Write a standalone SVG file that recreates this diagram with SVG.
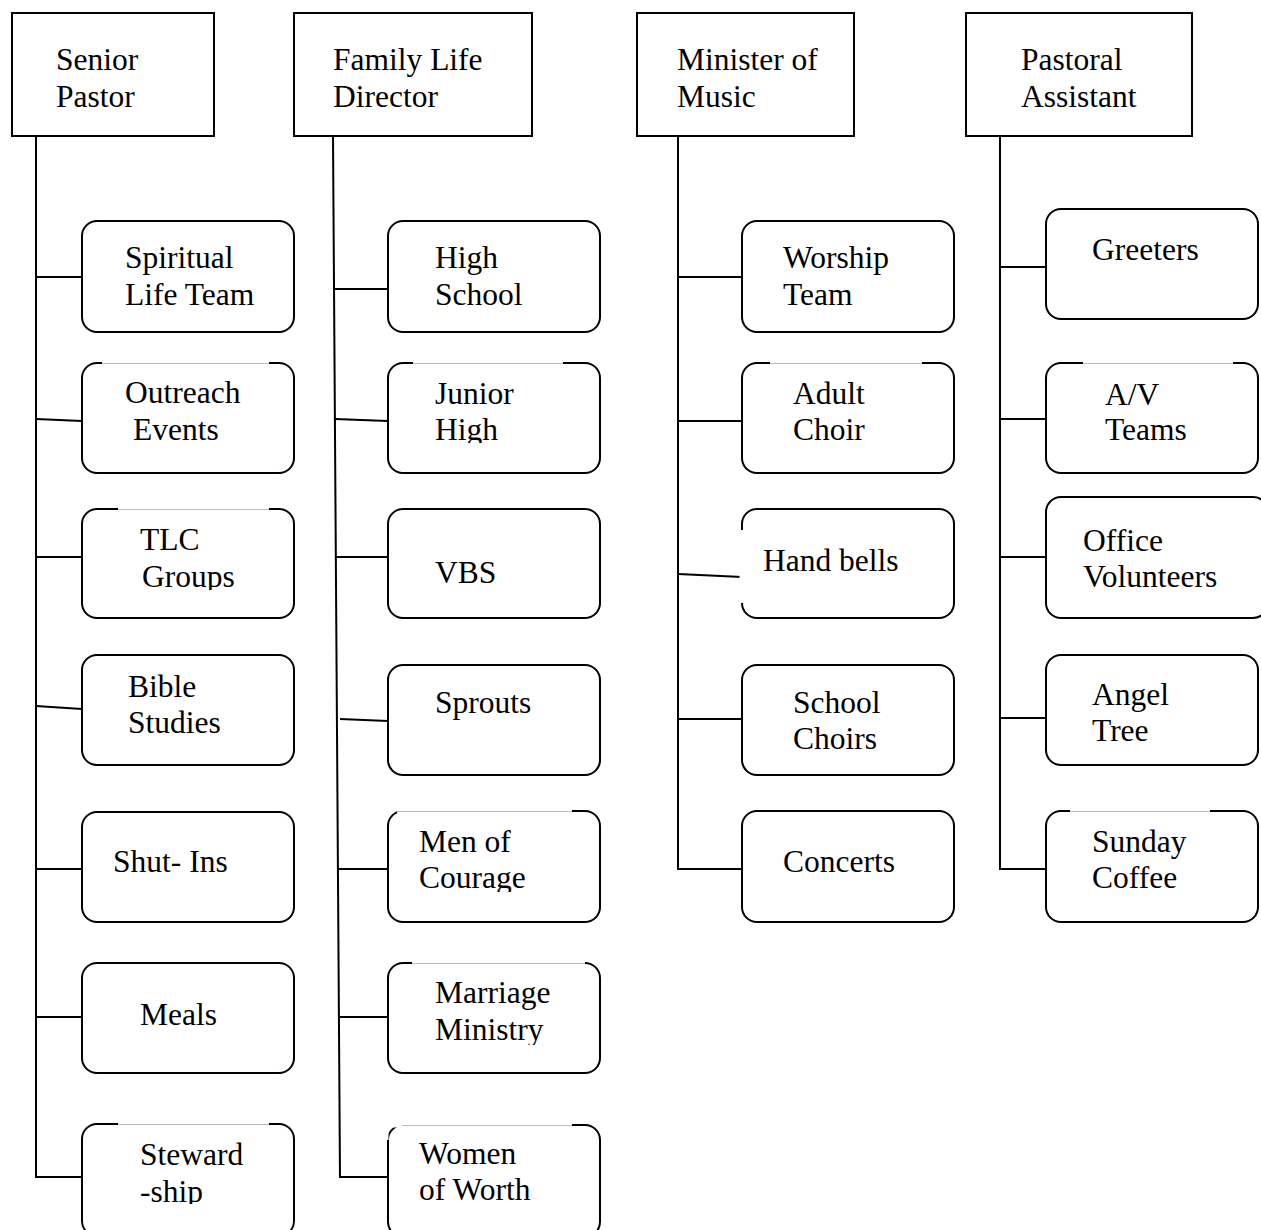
<svg xmlns="http://www.w3.org/2000/svg" width="1261" height="1230" viewBox="0 0 1261 1230" font-family="Liberation Serif, Times New Roman, serif" font-size="31.5">
  <style>
    .head { fill: #fff; stroke: #000; stroke-width: 2; }
    .box { fill: #fff; stroke: #000; stroke-width: 2; }
    .gap { stroke: #fff; stroke-width: 5; fill: none; }
    .hair { stroke: #bdbdbd; stroke-width: 1; fill: none; }
    .link { stroke: #000; stroke-width: 2; fill: none; }
  </style>
  <defs>
    <clipPath id="clip-junior"><rect x="388" y="363" width="212" height="80"/></clipPath>
    <clipPath id="clip-tlc"><rect x="82" y="509" width="212" height="81"/></clipPath>
    <clipPath id="clip-men"><rect x="388" y="811" width="212" height="81"/></clipPath>
    <clipPath id="clip-marriage"><rect x="388" y="963" width="212" height="82"/></clipPath>
    <clipPath id="clip-steward"><rect x="82" y="1124" width="212" height="80"/></clipPath>
  </defs>

  <rect width="1261" height="1230" fill="#fff"/>

  <!-- connectors -->
  <g id="connectors">
    <line class="link" x1="36" y1="136" x2="36" y2="1178"/>
    <line class="link" x1="36" y1="277" x2="82" y2="277"/>
    <line class="link" x1="36" y1="419" x2="82" y2="421"/>
    <line class="link" x1="36" y1="557" x2="82" y2="557"/>
    <line class="link" x1="36" y1="706" x2="82" y2="709"/>
    <line class="link" x1="36" y1="869" x2="82" y2="869"/>
    <line class="link" x1="36" y1="1017" x2="82" y2="1017"/>
    <line class="link" x1="35" y1="1177" x2="82" y2="1177"/>

    <line class="link" x1="333" y1="136" x2="340" y2="1178"/>
    <line class="link" x1="334" y1="289" x2="388" y2="289"/>
    <line class="link" x1="335" y1="419" x2="388" y2="421"/>
    <line class="link" x1="336" y1="557" x2="388" y2="557"/>
    <line class="link" x1="340" y1="719" x2="388" y2="721"/>
    <line class="link" x1="338" y1="869" x2="388" y2="869"/>
    <line class="link" x1="339" y1="1017" x2="388" y2="1017"/>
    <line class="link" x1="339" y1="1177" x2="388" y2="1177"/>

    <line class="link" x1="678" y1="136" x2="678" y2="870"/>
    <line class="link" x1="678" y1="277" x2="742" y2="277"/>
    <line class="link" x1="678" y1="421" x2="742" y2="421"/>
    <line class="link" x1="678" y1="574" x2="742" y2="577"/>
    <line class="link" x1="678" y1="719" x2="742" y2="719"/>
    <line class="link" x1="677" y1="869" x2="742" y2="869"/>

    <line class="link" x1="1000" y1="136" x2="1000" y2="870"/>
    <line class="link" x1="1000" y1="267" x2="1046" y2="267"/>
    <line class="link" x1="1000" y1="419" x2="1046" y2="419"/>
    <line class="link" x1="1000" y1="557" x2="1046" y2="557"/>
    <line class="link" x1="1000" y1="718" x2="1046" y2="718"/>
    <line class="link" x1="999" y1="869" x2="1046" y2="869"/>
  </g>

  <!-- heads of the four ministry areas -->
  <g id="senior-pastor">
    <rect class="head" x="12" y="13" width="202" height="123"/>
    <text x="56" y="70">Senior</text>
    <text x="56" y="107">Pastor</text>
  </g>
  <g id="family-life-director">
    <rect class="head" x="294" y="13" width="238" height="123"/>
    <text x="333" y="70">Family Life</text>
    <text x="333" y="107">Director</text>
  </g>
  <g id="minister-of-music">
    <rect class="head" x="637" y="13" width="217" height="123"/>
    <text x="677" y="70">Minister of</text>
    <text x="677" y="107">Music</text>
  </g>
  <g id="pastoral-assistant">
    <rect class="head" x="966" y="13" width="226" height="123"/>
    <text x="1021" y="70">Pastoral</text>
    <text x="1021" y="107">Assistant</text>
  </g>

  <!-- Senior Pastor teams -->
  <g id="spiritual-life-team">
    <rect class="box" x="82" y="221" width="212" height="111" rx="15"/>
    <text x="125" y="268">Spiritual</text>
    <text x="125" y="305">Life Team</text>
  </g>
  <g id="outreach-events">
    <rect class="box" x="82" y="363" width="212" height="110" rx="15"/>
    <line class="gap" x1="102" y1="363" x2="269" y2="363"/>
    <line class="hair" x1="102" y1="363.5" x2="269" y2="363.5"/>
    <text x="125" y="403">Outreach</text>
    <text x="133" y="440">Events</text>
  </g>
  <g id="tlc-groups">
    <rect class="box" x="82" y="509" width="212" height="109" rx="15"/>
    <line class="gap" x1="118" y1="509" x2="269" y2="509"/>
    <line class="hair" x1="118" y1="509.5" x2="269" y2="509.5"/>
    <g clip-path="url(#clip-tlc)">
      <text x="140" y="550">TLC</text>
      <text x="142" y="587">Groups</text>
    </g>
  </g>
  <g id="bible-studies">
    <rect class="box" x="82" y="655" width="212" height="110" rx="15"/>
    <text x="128" y="697">Bible</text>
    <text x="128" y="733">Studies</text>
  </g>
  <g id="shut-ins">
    <rect class="box" x="82" y="812" width="212" height="110" rx="15"/>
    <text x="113" y="872">Shut- Ins</text>
  </g>
  <g id="meals">
    <rect class="box" x="82" y="963" width="212" height="110" rx="15"/>
    <text x="140" y="1025">Meals</text>
  </g>
  <g id="stewardship">
    <rect class="box" x="82" y="1124" width="212" height="112" rx="15"/>
    <line class="gap" x1="118" y1="1124" x2="269" y2="1124"/>
    <line class="hair" x1="118" y1="1124.5" x2="269" y2="1124.5"/>
    <g clip-path="url(#clip-steward)">
      <text x="140" y="1165">Steward</text>
      <text x="140" y="1202">-ship</text>
    </g>
  </g>

  <!-- Family Life teams -->
  <g id="high-school">
    <rect class="box" x="388" y="221" width="212" height="111" rx="15"/>
    <text x="435" y="268">High</text>
    <text x="435" y="305">School</text>
  </g>
  <g id="junior-high">
    <rect class="box" x="388" y="363" width="212" height="110" rx="15"/>
    <line class="gap" x1="413" y1="363" x2="563" y2="363"/>
    <line class="hair" x1="413" y1="363.5" x2="563" y2="363.5"/>
    <g clip-path="url(#clip-junior)">
      <text x="435" y="404">Junior</text>
      <text x="435" y="440">High</text>
    </g>
  </g>
  <g id="vbs">
    <rect class="box" x="388" y="509" width="212" height="109" rx="15"/>
    <text x="435" y="583">VBS</text>
  </g>
  <g id="sprouts">
    <rect class="box" x="388" y="665" width="212" height="110" rx="15"/>
    <text x="435" y="713">Sprouts</text>
  </g>
  <g id="men-of-courage">
    <rect class="box" x="388" y="811" width="212" height="111" rx="15"/>
    <line class="gap" x1="397" y1="811" x2="572" y2="811"/>
    <line class="hair" x1="397" y1="811.5" x2="572" y2="811.5"/>
    <g clip-path="url(#clip-men)">
      <text x="419" y="852">Men of</text>
      <text x="419" y="888">Courage</text>
    </g>
  </g>
  <g id="marriage-ministry">
    <rect class="box" x="388" y="963" width="212" height="110" rx="15"/>
    <line class="gap" x1="412" y1="963" x2="585" y2="963"/>
    <line class="hair" x1="412" y1="963.5" x2="585" y2="963.5"/>
    <g clip-path="url(#clip-marriage)">
      <text x="435" y="1003">Marriage</text>
      <text x="435" y="1040">Ministry</text>
    </g>
  </g>
  <g id="women-of-worth">
    <rect class="box" x="388" y="1125" width="212" height="112" rx="15"/>
    <path class="gap" d="M386,1140 L386,1125 L572,1125"/>
    <line class="hair" x1="402" y1="1125.5" x2="572" y2="1125.5"/>
    <text x="419" y="1164">Women</text>
    <text x="419" y="1200">of Worth</text>
  </g>

  <!-- Music teams -->
  <g id="worship-team">
    <rect class="box" x="742" y="221" width="212" height="111" rx="15"/>
    <text x="783" y="268">Worship</text>
    <text x="783" y="305">Team</text>
  </g>
  <g id="adult-choir">
    <rect class="box" x="742" y="363" width="212" height="110" rx="15"/>
    <line class="gap" x1="770" y1="363" x2="922" y2="363"/>
    <line class="hair" x1="770" y1="363.5" x2="922" y2="363.5"/>
    <text x="793" y="404">Adult</text>
    <text x="793" y="440">Choir</text>
  </g>
  <g id="hand-bells">
    <rect class="box" x="742" y="509" width="212" height="109" rx="15"/>
    <line class="gap" x1="742" y1="530" x2="742" y2="603"/>
    <text x="763" y="571">Hand bells</text>
  </g>
  <g id="school-choirs">
    <rect class="box" x="742" y="665" width="212" height="110" rx="15"/>
    <text x="793" y="713">School</text>
    <text x="793" y="749">Choirs</text>
  </g>
  <g id="concerts">
    <rect class="box" x="742" y="811" width="212" height="111" rx="15"/>
    <text x="783" y="872">Concerts</text>
  </g>

  <!-- Pastoral Assistant teams -->
  <g id="greeters">
    <rect class="box" x="1046" y="209" width="212" height="110" rx="15"/>
    <text x="1092" y="260">Greeters</text>
  </g>
  <g id="av-teams">
    <rect class="box" x="1046" y="363" width="212" height="110" rx="15"/>
    <line class="gap" x1="1083" y1="363" x2="1233" y2="363"/>
    <line class="hair" x1="1083" y1="363.5" x2="1233" y2="363.5"/>
    <text x="1105" y="405">A/V</text>
    <text x="1105" y="440">Teams</text>
  </g>
  <g id="office-volunteers">
    <rect class="box" x="1046" y="497" width="222" height="121" rx="15"/>
    <text x="1083" y="551">Office</text>
    <text x="1083" y="587">Volunteers</text>
  </g>
  <g id="angel-tree">
    <rect class="box" x="1046" y="655" width="212" height="110" rx="15"/>
    <text x="1092" y="705">Angel</text>
    <text x="1092" y="741">Tree</text>
  </g>
  <g id="sunday-coffee">
    <rect class="box" x="1046" y="811" width="212" height="111" rx="15"/>
    <line class="gap" x1="1070" y1="811" x2="1210" y2="811"/>
    <line class="hair" x1="1070" y1="811.5" x2="1210" y2="811.5"/>
    <text x="1092" y="852">Sunday</text>
    <text x="1092" y="888">Coffee</text>
  </g>
</svg>
